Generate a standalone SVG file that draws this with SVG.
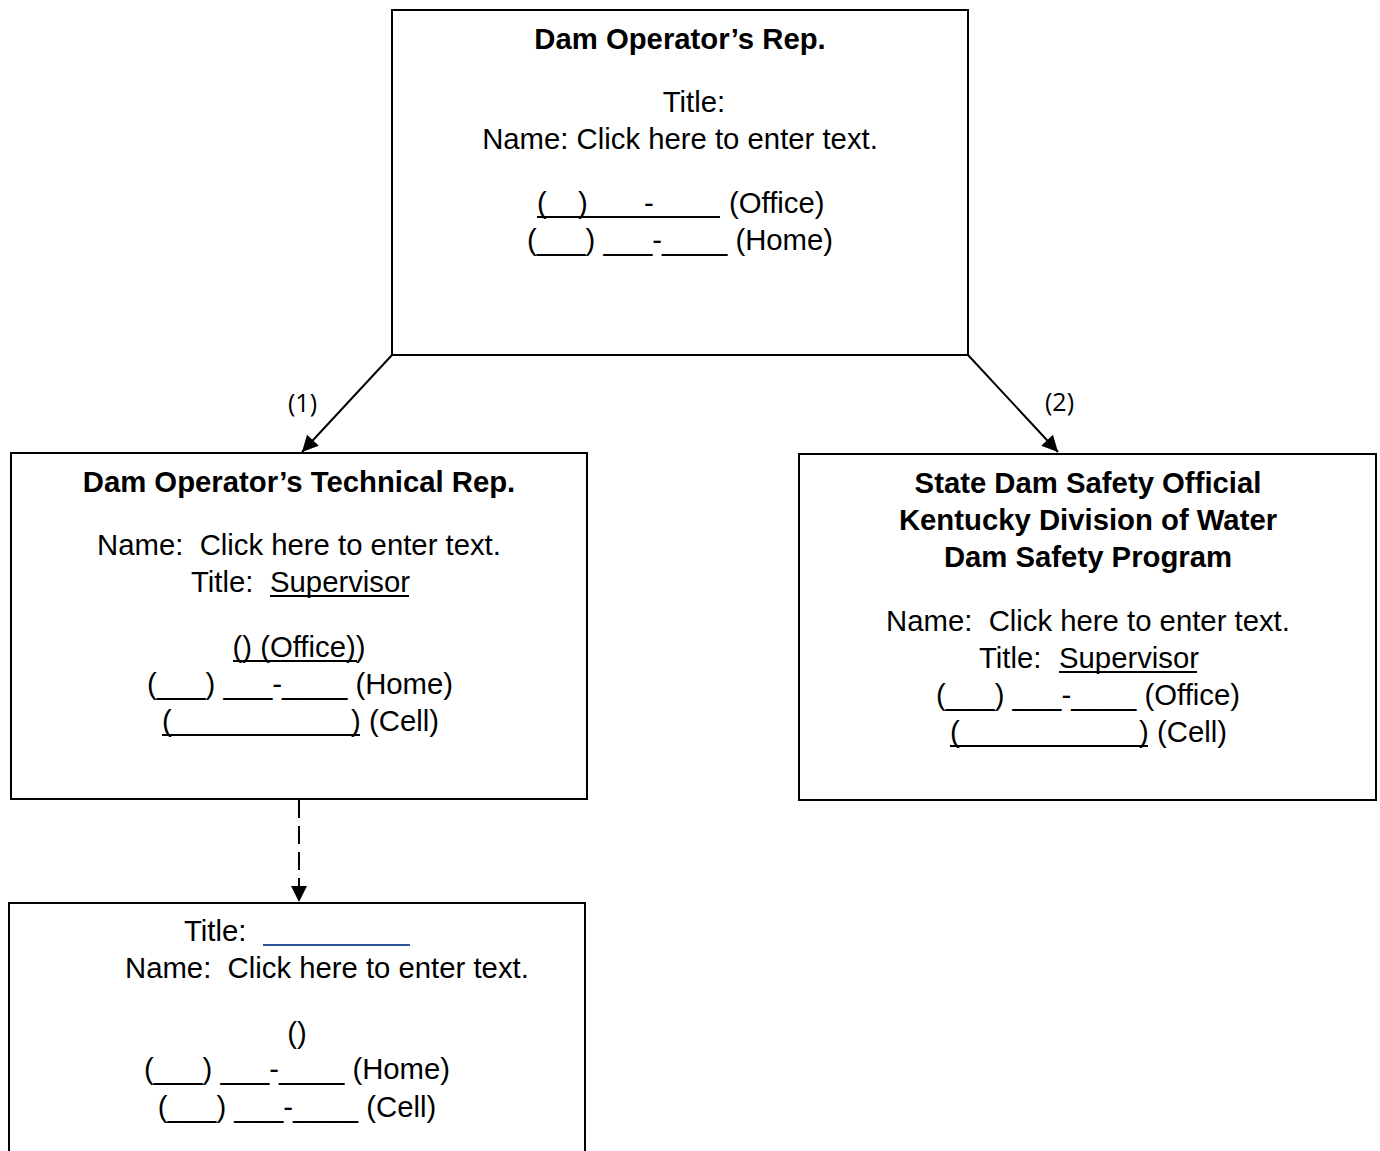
<svg xmlns="http://www.w3.org/2000/svg" width="1380" height="1151" viewBox="0 0 1380 1151" xml:space="preserve">
<style>
.box{fill:#fff;stroke:#000;stroke-width:2}
.t{font-family:"Liberation Sans",Arial,sans-serif;font-size:29.3px;fill:#000;white-space:pre}
.c{text-anchor:middle}
.b{font-weight:bold}
.ul{stroke:#000;stroke-width:2}
.lbl{font-family:"Open Sans","DejaVu Sans",sans-serif;font-size:25px;fill:#000}
.conn{stroke:#000;stroke-width:2;fill:none}
</style>
<defs>
<marker id="ahb" viewBox="0 0 10 10" refX="10" refY="5" markerWidth="20" markerHeight="16" markerUnits="userSpaceOnUse" orient="auto">
<path d="M0,0 L10,5 L0,10 Z" fill="#000"/>
</marker>
</defs>
<rect width="1380" height="1151" fill="#fff"/>
<g id="connectors">
<line class="conn" x1="392" y1="355" x2="302" y2="452" marker-end="url(#ahb)"/>
<line class="conn" x1="968" y1="355" x2="1058" y2="452" marker-end="url(#ahb)"/>
<line class="conn" x1="299" y1="800" x2="299" y2="902" stroke-dasharray="18,8" marker-end="url(#ahb)"/>
<text class="lbl" x="288" y="412">(1)</text>
<text class="lbl" x="1045" y="411">(2)</text>
</g>
<g id="node-top">
<rect class="box" x="392" y="10" width="576" height="345"/>
<text class="t c b" x="680" y="49">Dam Operator’s Rep.</text>
<text class="t c" x="694" y="112">Title:</text>
<text class="t c" x="680" y="149">Name: Click here to enter text.</text>
<text class="t" x="537" y="213">(</text>
<text class="t" x="578" y="213">)</text>
<text class="t" x="644" y="213">-</text>
<line class="ul" x1="537" y1="217" x2="720" y2="217"/>
<text class="t" x="729" y="213">(Office)</text>
<text class="t c" x="680" y="250">(___) ___-____ (Home)</text>
</g>
<g id="node-left">
<rect class="box" x="11" y="453" width="576" height="346"/>
<text class="t c b" x="299" y="492">Dam Operator’s Technical Rep.</text>
<text class="t c" x="299" y="555">Name:  Click here to enter text.</text>
<text class="t" x="191" y="592">Title:</text>
<text class="t" x="270" y="592">Supervisor</text>
<line class="ul" x1="270" y1="596" x2="409" y2="596"/>
<text class="t c" x="299" y="657">() (Office))</text>
<line class="ul" x1="233" y1="661" x2="357" y2="661"/>
<text class="t c" x="300" y="694">(___) ___-____ (Home)</text>
<text class="t" x="162" y="731">(</text>
<text class="t" x="351" y="731">)</text>
<line class="ul" x1="162" y1="735" x2="360" y2="735"/>
<text class="t" x="369" y="731">(Cell)</text>
</g>
<g id="node-right">
<rect class="box" x="799" y="454" width="577" height="346"/>
<text class="t c b" x="1088" y="493">State Dam Safety Official</text>
<text class="t c b" x="1088" y="530">Kentucky Division of Water</text>
<text class="t c b" x="1088" y="567">Dam Safety Program</text>
<text class="t c" x="1088" y="631">Name:  Click here to enter text.</text>
<text class="t" x="979" y="668">Title:</text>
<text class="t" x="1059" y="668">Supervisor</text>
<line class="ul" x1="1059" y1="672" x2="1197" y2="672"/>
<text class="t c" x="1088" y="705">(___) ___-____ (Office)</text>
<text class="t" x="950" y="742">(</text>
<text class="t" x="1139" y="742">)</text>
<line class="ul" x1="950" y1="746" x2="1148" y2="746"/>
<text class="t" x="1157" y="742">(Cell)</text>
</g>
<g id="node-bottom">
<rect class="box" x="9" y="903" width="576" height="260"/>
<text class="t" x="184" y="941">Title:</text>
<line x1="263" y1="945" x2="410" y2="945" stroke="#2F5496" stroke-width="2"/>
<text class="t" x="125" y="978">Name:  Click here to enter text.</text>
<text class="t c" x="297" y="1043">()</text>
<text class="t c" x="297" y="1079">(___) ___-____ (Home)</text>
<text class="t c" x="297" y="1117">(___) ___-____ (Cell)</text>
</g>
</svg>
